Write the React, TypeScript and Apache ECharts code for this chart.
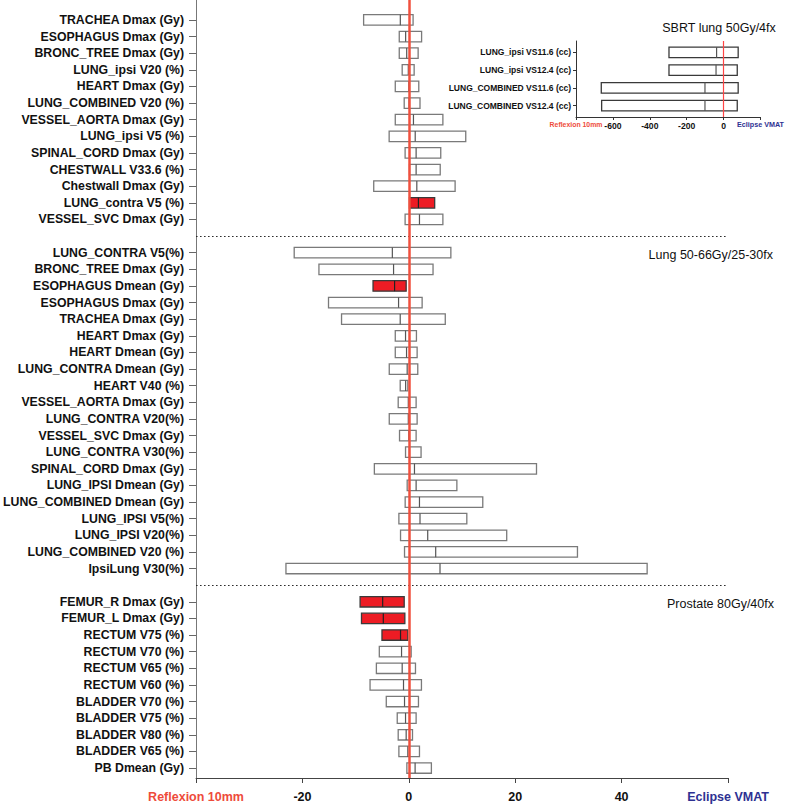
import React, { useEffect, useRef } from "react";
import * as echarts from "echarts";

// ---- SBRT lung 50Gy/4fx (main panel) ----
const sbrtNames = [
  "TRACHEA Dmax (Gy)", "ESOPHAGUS Dmax (Gy)", "BRONC_TREE Dmax (Gy)", "LUNG_ipsi V20 (%)",
  "HEART Dmax (Gy)", "LUNG_COMBINED V20 (%)", "VESSEL_AORTA Dmax (Gy)", "LUNG_ipsi V5 (%)",
  "SPINAL_CORD Dmax (Gy)", "CHESTWALL V33.6 (%)", "Chestwall Dmax (Gy)", "LUNG_contra V5 (%)",
  "VESSEL_SVC Dmax (Gy)",
];
const sbrtLow = [-8.5, -1.8, -1.8, -1.25, -2.55, -0.87, -2.55, -3.7, -0.7, 0.12, -6.6, 0.12, -0.7];
const sbrtMedian = [-1.6, -0.6, -0.4, -0.1, 0.0, 0.05, 0.87, 1.2, 1.37, 1.37, 1.5, 1.8, 2.0];
const sbrtHigh = [0.8, 2.4, 1.75, 1.0, 1.87, 2.1, 6.4, 10.7, 6.0, 5.9, 8.7, 4.86, 6.4];
const sbrtSig = [0, 0, 0, 0, 0, 0, 0, 0, 0, 0, 0, 1, 0];

// ---- Lung 50-66Gy/25-30fx ----
const lungNames = [
  "LUNG_CONTRA V5(%)", "BRONC_TREE Dmax (Gy)", "ESOPHAGUS Dmean (Gy)", "ESOPHAGUS Dmax (Gy)",
  "TRACHEA Dmax (Gy)", "HEART Dmax (Gy)", "HEART Dmean (Gy)", "LUNG_CONTRA Dmean (Gy)",
  "HEART V40 (%)", "VESSEL_AORTA Dmax (Gy)", "LUNG_CONTRA V20(%)", "VESSEL_SVC Dmax (Gy)",
  "LUNG_CONTRA V30(%)", "SPINAL_CORD Dmax (Gy)", "LUNG_IPSI Dmean (Gy)", "LUNG_COMBINED Dmean (Gy)",
  "LUNG_IPSI V5(%)", "LUNG_IPSI V20(%)", "LUNG_COMBINED V20 (%)", "IpsiLung V30(%)",
];
const lungLow = [-21.55, -16.9, -6.73, -15.1, -12.65, -2.55, -2.55, -3.68, -1.62, -2.0, -3.68, -1.75, -0.62, -6.48, -0.31, -0.69, -1.87, -1.56, -0.81, -23.1];
const lungMedian = [-3.1, -2.87, -2.68, -1.93, -1.62, -0.62, -0.43, -0.31, -0.6, -0.1, -0.1, 0.0, 0.1, 1.06, 1.37, 2.0, 2.1, 3.55, 5.05, 5.86];
const lungHigh = [7.9, 4.55, -0.5, 2.5, 6.85, 1.43, 1.56, 1.68, -0.19, 1.37, 1.56, 1.37, 2.3, 24.0, 9.03, 13.9, 10.9, 18.4, 31.7, 44.8];
const lungSig = [0, 0, 1, 0, 0, 0, 0, 0, 0, 0, 0, 0, 0, 0, 0, 0, 0, 0, 0, 0];

// ---- Prostate 80Gy/40fx ----
const prostateNames = [
  "FEMUR_R Dmax (Gy)", "FEMUR_L Dmax (Gy)", "RECTUM V75 (%)", "RECTUM V70 (%)", "RECTUM V65 (%)",
  "RECTUM V60 (%)", "BLADDER V70 (%)", "BLADDER V75 (%)", "BLADDER V80 (%)", "BLADDER V65 (%)",
  "PB Dmean (Gy)",
];
const prostateLow = [-9.16, -8.9, -5.05, -5.55, -6.1, -7.29, -4.24, -2.18, -2.0, -1.87, -0.37];
const prostateMedian = [-4.92, -4.8, -1.56, -1.37, -1.25, -1.0, -0.81, -0.62, -0.5, -0.19, 1.18];
const prostateHigh = [-0.87, -0.75, -0.19, 0.44, 1.25, 2.37, 1.81, 1.37, 0.69, 2.0, 4.24];
const prostateSig = [1, 1, 1, 0, 0, 0, 0, 0, 0, 0, 0];

// ---- Inset: SBRT lung volumes (cc) ----
const insetNames = ["LUNG_ipsi VS11.6 (cc)", "LUNG_ipsi VS12.4 (cc)", "LUNG_COMBINED VS11.6 (cc)", "LUNG_COMBINED VS12.4 (cc)"];
const insetLow = [-296, -296, -663, -661];
const insetMedian = [-38, -41, -101, -101];
const insetHigh = [79, 74, 79, 74];

const groupTitles = ["SBRT lung 50Gy/4fx", "Lung 50-66Gy/25-30fx", "Prostate 80Gy/40fx"];
const mainTicks = [-40, -20, 0, 20, 40, 60];
const insetTicks = [-800, -600, -400, -200, 0, 200];
const leftLabel = "Reflexion 10mm";
const rightLabel = "Eclipse VMAT";

const FONT = "'Liberation Sans', Arial, Helvetica, sans-serif";

export default function App() {
  const ref = useRef<HTMLDivElement>(null);
  useEffect(() => {
    if (!ref.current) return;
    const chart = echarts.init(ref.current, undefined, { renderer: "svg" });

    // assemble rows with a gap row between groups
    const rowNames: string[] = [];
    const mainData: number[][] = [];
    const gapRows: number[] = [];
    const addGroup = (names: string[], lo: number[], me: number[], hi: number[], sg: number[]) => {
      names.forEach((n, i) => {
        const idx = rowNames.length;
        rowNames.push(n);
        mainData.push([idx, lo[i], me[i], hi[i], sg[i]]);
      });
    };
    addGroup(sbrtNames, sbrtLow, sbrtMedian, sbrtHigh, sbrtSig);
    gapRows.push(rowNames.length); rowNames.push("");
    addGroup(lungNames, lungLow, lungMedian, lungHigh, lungSig);
    gapRows.push(rowNames.length); rowNames.push("");
    addGroup(prostateNames, prostateLow, prostateMedian, prostateHigh, prostateSig);
    const labelRows = mainData.map((d) => d[0]);
    const lastRow = rowNames.length - 1;

    const insetData = insetNames.map((_, i) => [i, insetLow[i], insetMedian[i], insetHigh[i], 0]);
    const insetRows = insetNames.map((_, i) => i);

    const makeRender = (hFrac: number, insetMode: boolean) => (params: any, api: any) => {
      const y = api.value(0);
      const lo = api.value(1), me = api.value(2), hi = api.value(3), sg = api.value(4);
      const p1 = api.coord([lo, y]);
      const p2 = api.coord([hi, y]);
      const pm = api.coord([me, y]);
      const h = api.size([0, hFrac])[1];
      const stroke = insetMode ? "#3a3a3a" : sg ? "#3a3a3a" : "#7a7a7a";
      return {
        type: "group",
        children: [
          {
            type: "rect",
            shape: { x: p1[0], y: p1[1] - h / 2, width: p2[0] - p1[0], height: h },
            style: { fill: sg ? "#ED1C24" : "#ffffff", stroke, lineWidth: 1.3 },
          },
          {
            type: "line",
            shape: { x1: pm[0], y1: p1[1] - h / 2, x2: pm[0], y2: p1[1] + h / 2 },
            style: { stroke: sg ? "#222" : "#555", lineWidth: 1.2 },
          },
        ],
      };
    };

    const xLabelFormatter = (ticks: number[]) => (v: number) => {
      if (v === ticks[0]) return "{l|" + leftLabel + "}";
      if (v === ticks[ticks.length - 1]) return "{r|" + rightLabel + "}";
      return String(v);
    };

    chart.setOption({
      animation: false,
      textStyle: { fontFamily: FONT },
      title: [
        { text: groupTitles[0], right: 6, top: 16, textStyle: { fontSize: 12.5, fontWeight: "normal", color: "#111", fontFamily: FONT } },
        { text: groupTitles[1], right: 9, top: 243, textStyle: { fontSize: 12.5, fontWeight: "normal", color: "#111", fontFamily: FONT } },
        { text: groupTitles[2], right: 8, top: 592, textStyle: { fontSize: 12.5, fontWeight: "normal", color: "#111", fontFamily: FONT } },
      ],
      grid: [
        { left: 195, right: 59, top: 0, bottom: 28, containLabel: false },
        { left: 576, right: 26, top: 41, bottom: 689, containLabel: false },
      ],
      xAxis: [
        {
          type: "value", gridIndex: 0, position: "bottom", min: mainTicks[0], max: mainTicks[mainTicks.length - 1], interval: 20,
          splitLine: { show: false },
          axisLine: { show: true, onZero: false, lineStyle: { color: "#444", width: 1 } },
          axisTick: { show: true, length: 5, lineStyle: { color: "#444" } },
          axisLabel: {
            margin: 12, fontSize: 12.5, fontWeight: "bold", color: "#111", fontFamily: FONT,
            showMinLabel: true, showMaxLabel: true, hideOverlap: false,
            formatter: xLabelFormatter(mainTicks),
            rich: {
              l: { color: "#EE4B3B", fontSize: 12.5, fontWeight: "bold", fontFamily: FONT },
              r: { color: "#2E3192", fontSize: 12.5, fontWeight: "bold", fontFamily: FONT },
            },
          },
        },
        {
          type: "value", gridIndex: 1, position: "bottom", min: insetTicks[0], max: insetTicks[insetTicks.length - 1], interval: 200,
          splitLine: { show: false },
          axisLine: { show: true, onZero: false, lineStyle: { color: "#333", width: 1 } },
          axisTick: { show: true, length: 3, lineStyle: { color: "#333" } },
          axisLabel: {
            margin: 4, fontSize: 8.6, fontWeight: "bold", color: "#111", fontFamily: FONT,
            showMinLabel: true, showMaxLabel: true, hideOverlap: false,
            formatter: xLabelFormatter(insetTicks),
            rich: {
              l: { color: "#EE4B3B", fontSize: 6.9, fontWeight: "bold", fontFamily: FONT },
              r: { color: "#2E3192", fontSize: 7.2, fontWeight: "bold", fontFamily: FONT },
            },
          },
        },
      ],
      yAxis: [
        {
          type: "value", gridIndex: 0, position: "left", inverse: true, min: -1.2, max: lastRow + 0.6,
          splitLine: { show: false },
          axisLine: { show: true, onZero: false, lineStyle: { color: "#777", width: 1 } },
          axisTick: { show: true, length: 7, lineStyle: { color: "#666" }, customValues: labelRows },
          axisLabel: {
            margin: 12, fontSize: 12.3, fontWeight: "bold", color: "#111", fontFamily: FONT,
            customValues: labelRows,
            formatter: (v: number) => rowNames[Math.round(v)] || "",
          },
        },
        {
          type: "value", gridIndex: 1, position: "left", inverse: true, min: -0.64, max: insetNames.length - 1 + 0.64,
          splitLine: { show: false },
          axisLine: { show: true, onZero: false, lineStyle: { color: "#333", width: 1 } },
          axisTick: { show: true, length: 3, lineStyle: { color: "#333" }, customValues: insetRows },
          axisLabel: {
            margin: 5, fontSize: 8.5, fontWeight: "bold", color: "#111", fontFamily: FONT,
            customValues: insetRows,
            formatter: (v: number) => insetNames[Math.round(v)] || "",
          },
        },
      ],
      series: [
        {
          type: "custom", xAxisIndex: 0, yAxisIndex: 0, z: 2,
          renderItem: makeRender(0.63, false),
          encode: { x: [1, 2, 3], y: 0 },
          data: mainData,
        },
        {
          type: "line", xAxisIndex: 0, yAxisIndex: 0, data: [], z: 1,
          markLine: {
            silent: true, symbol: "none", label: { show: false },
            data: gapRows.map((g) => ({ yAxis: g, lineStyle: { type: [1.5, 2.5], color: "#222", width: 1.2 } })),
          },
        },
        {
          type: "line", xAxisIndex: 0, yAxisIndex: 0, data: [], z: 5,
          markLine: {
            silent: true, symbol: "none", label: { show: false },
            data: [{ xAxis: 0, lineStyle: { type: "solid", color: "#F0503E", width: 2.5 } }],
          },
        },
        {
          type: "custom", xAxisIndex: 1, yAxisIndex: 1, z: 2,
          renderItem: makeRender(0.6, true),
          encode: { x: [1, 2, 3], y: 0 },
          data: insetData,
        },
        {
          type: "line", xAxisIndex: 1, yAxisIndex: 1, data: [], z: 5,
          markLine: {
            silent: true, symbol: "none", label: { show: false },
            data: [{ xAxis: 0, lineStyle: { type: "solid", color: "#FF4545", width: 1.2 } }],
          },
        },
      ],
    });
    return () => chart.dispose();
  }, []);
  return <div ref={ref} style={{ position: "absolute", left: 0, top: 0, width: 787, height: 806 }} />;
}
